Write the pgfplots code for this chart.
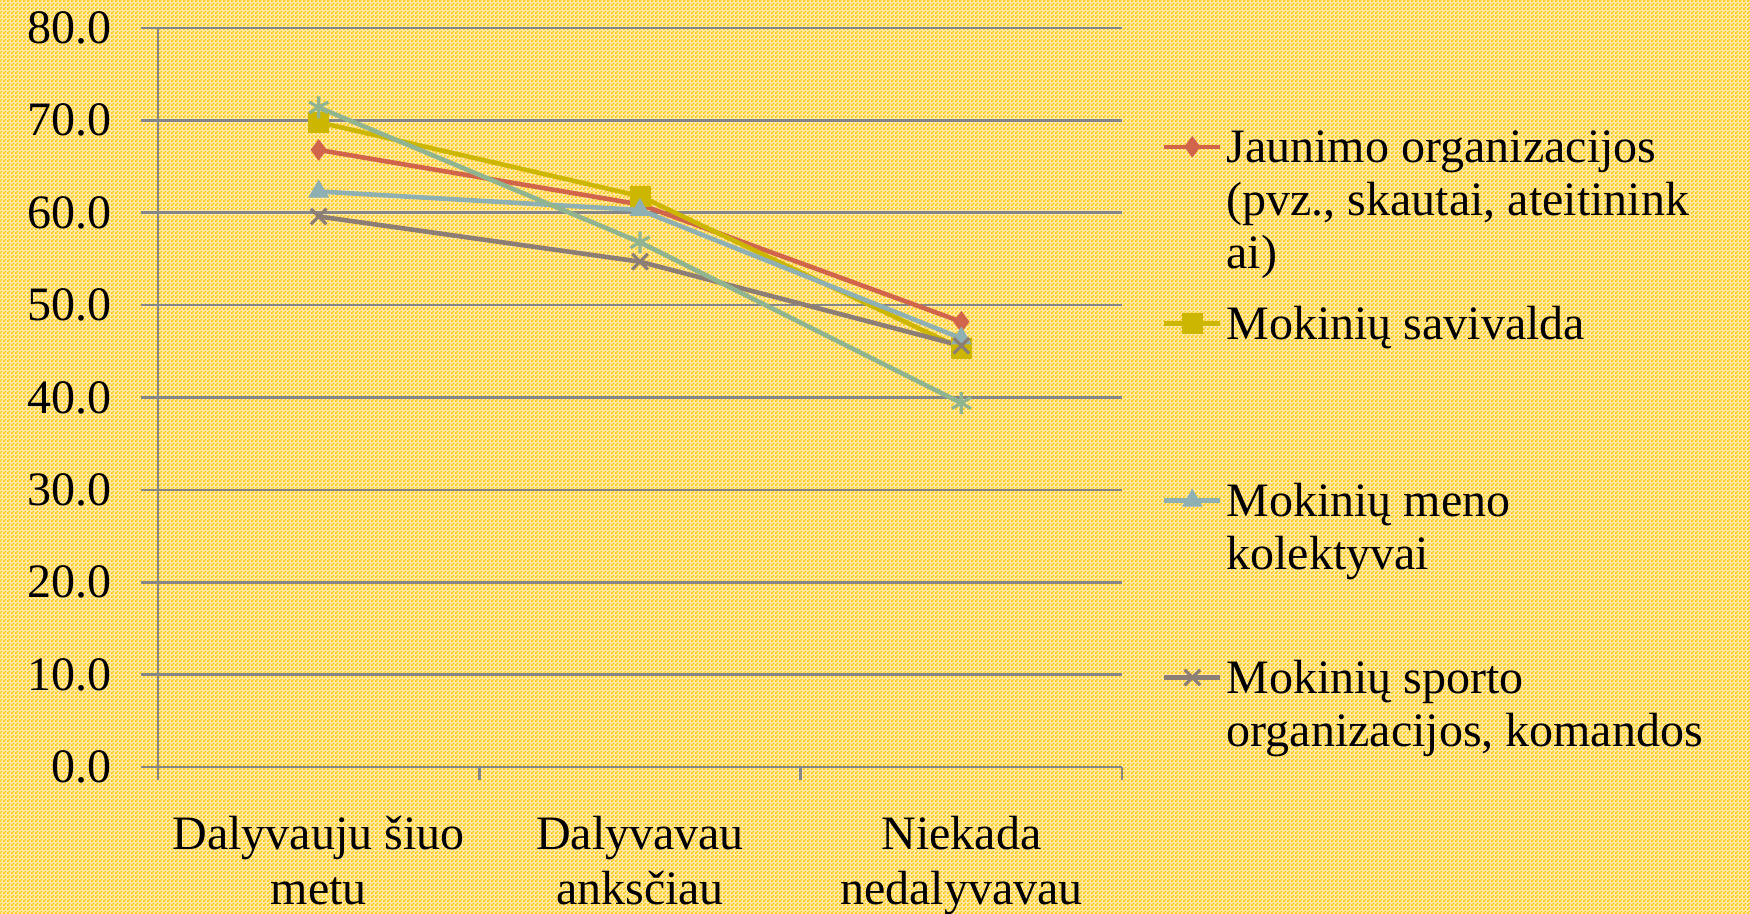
\documentclass[border=0pt]{standalone}
\usepackage{fontspec}
\setmainfont{Liberation Serif}
\usepackage{pgfplots}
\pgfplotsset{compat=1.18}
\usetikzlibrary{patterns}
\definecolor{bggold}{RGB}{255,192,0}
\definecolor{bgbase}{RGB}{255,236,170}
\definecolor{gridgray}{RGB}{134,134,134}
\definecolor{sred}{RGB}{209,101,75}
\definecolor{syellow}{RGB}{205,182,0}
\definecolor{steal}{RGB}{142,176,178}
\definecolor{sbrown}{RGB}{140,126,116}
\definecolor{sgreen}{RGB}{143,180,143}
\pgfdeclarepatternformonly{checker}{\pgfqpoint{0pt}{0pt}}{\pgfqpoint{2pt}{2pt}}{\pgfqpoint{2pt}{2pt}}{%
  \pgfpathrectangle{\pgfqpoint{0pt}{0pt}}{\pgfqpoint{1pt}{1pt}}%
  \pgfpathrectangle{\pgfqpoint{1pt}{1pt}}{\pgfqpoint{1pt}{1pt}}%
  \pgfusepath{fill}}
\newcommand{\lentry}[1]{\parbox[t]{290pt}{\raggedright #1}}
\begin{document}
\fontsize{24}{26.5}\selectfont
\begin{tikzpicture}
\fill[bgbase] (0,0) rectangle (875pt,457pt);
\fill[pattern=checker, pattern color=bggold] (0,0) rectangle (875pt,457pt);
\useasboundingbox (0,0) rectangle (875pt,457pt);
\begin{axis}[
  at={(79pt,73.5pt)}, anchor=south west,
  scale only axis, width=482pt, height=369.5pt,
  xmin=0.5, xmax=3.5, ymin=0, ymax=80,
  axis lines=left, axis line style={-, draw=gridgray, line width=1.3pt},
  xtick={1,2,3},
  xticklabels={{Dalyvauju šiuo\\metu},{Dalyvavau\\anksčiau},{Niekada\\nedalyvavau}},
  minor xtick={0.5,1.5,2.5,3.5},
  ytick={0,10,...,80},
  tick align=outside,
  x tick style={draw=none},
  minor x tick style={draw=gridgray, line width=1.3pt},
  y tick style={draw=gridgray, line width=1.3pt},
  major tick length=8.5pt, minor tick length=6.5pt,
  ymajorgrids, grid style={draw=gridgray, line width=1.3pt},
  /pgf/number format/assume math mode=true,
  yticklabel style={/pgf/number format/fixed, /pgf/number format/fixed zerofill, /pgf/number format/precision=1, font=\fontsize{24}{26.5}\selectfont, xshift=-6.5pt},
  xticklabel style={align=center, font=\fontsize{24}{27.5}\selectfont, yshift=-8pt},
  legend style={at={(1.0415,0.8606)}, anchor=north west, draw=none, fill=none,
    inner sep=0pt, outer sep=0pt, row sep=68.2pt, column sep=2pt,
    nodes={inner sep=0pt, outer sep=0pt}, cells={anchor=base west},
    font=\fontsize{24}{26.5}\selectfont},
  legend image code/.code={\draw[mark repeat=2,mark phase=2,#1,yshift=8pt] plot coordinates {(0pt,0pt) (14pt,0pt) (28pt,0pt)};},
  every axis plot/.append style={line width=2.3pt},
]
\addplot[color=sred, mark=diamond*, mark size=5pt, mark options={line width=0.5pt}] coordinates {(1,66.8) (2,60.9) (3,48.2)};
\addlegendentry{\lentry{Jaunimo organizacijos\\(pvz., skautai, ateitinink\\ai)}}
\addplot[color=syellow, mark=square*, mark size=5pt, mark options={line width=0.5pt}] coordinates {(1,69.8) (2,61.8) (3,45.3)};
\addlegendentry{\lentry{Mokinių savivalda}}
\addplot[color=steal, mark=triangle*, mark size=5.5pt, mark options={line width=0.5pt}] coordinates {(1,62.3) (2,60.3) (3,46.4)};
\addlegendentry{\lentry{Mokinių meno\\kolektyvai}}
\addplot[color=sbrown, mark=x, mark size=5.5pt, mark options={line width=1.6pt}] coordinates {(1,59.6) (2,54.7) (3,45.6)};
\addlegendentry{\lentry{Mokinių sporto\\organizacijos, komandos}}
\addplot[color=sgreen, mark=asterisk, mark size=5.5pt, mark options={line width=1.6pt}, forget plot] coordinates {(1,71.4) (2,56.8) (3,39.4)};
\end{axis}
\end{tikzpicture}
\end{document}
